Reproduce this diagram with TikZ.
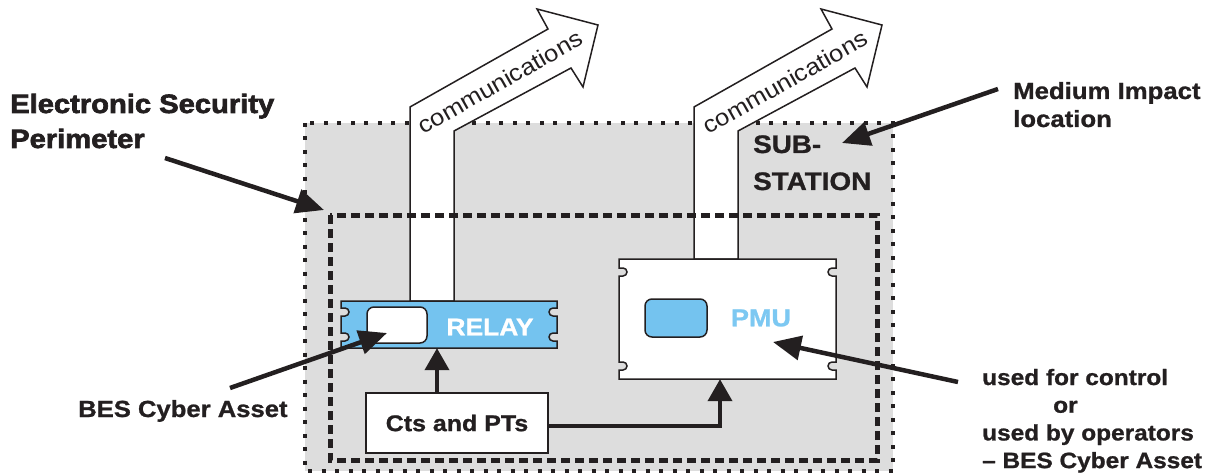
\documentclass[tikz,border=0pt]{standalone}
\usepackage{fontspec}
\setmainfont{Liberation Sans}[FakeStretch=1.1, BoldFeatures={FakeBold=1}]
\newfontfamily\espfont{Liberation Sans Bold}[FakeStretch=1.1, FakeBold=2.5]
\usetikzlibrary{arrows.meta}
\definecolor{subgray}{HTML}{DDDDDD}
\definecolor{relayblue}{HTML}{74C3EF}
\definecolor{pmucol}{HTML}{7CC8F2}
\definecolor{ink}{HTML}{231F20}
\newcommand\nbox[7]{%
 \filldraw[fill=#1, draw=ink, line width=1.5pt]
 (#2,#3) -- (#4,#3) -- (#4,#6-4) -- ++(-4,0) arc[start angle=-90,end angle=-270,radius=4]
 -- (#4,#6+4) -- (#4,#7-4) -- ++(-4,0) arc[start angle=-90,end angle=-270,radius=4]
 -- (#4,#7+4) -- (#4,#5) -- (#2,#5) -- (#2,#7+4) -- ++(4,0) arc[start angle=90,end angle=-90,radius=4]
 -- (#2,#7-4) -- (#2,#6+4) -- ++(4,0) arc[start angle=90,end angle=-90,radius=4]
 -- (#2,#6-4) -- cycle;}
\tikzset{
  commarrow/.style={fill=white, draw=ink, line width=1.5pt, line join=miter},
  commtext/.style={rotate=29.5, inner sep=0, font=\fontsize{23.3}{28}\selectfont, text=ink},
  thickarrow/.style={draw=ink, line width=4pt, -{Triangle[length=22pt,width=24pt]}},
  labelarrow/.style={draw=ink, line width=4.5pt, -{Triangle[length=28pt,width=24pt]}},
  lbl/.style={anchor=base west, inner sep=0, text=ink},
  hidden/.style={inner sep=0, draw=none}
}
\begin{document}
\begin{tikzpicture}[x=1pt,y=-1pt]
\useasboundingbox (0,0) rectangle (1227,476);
% substation area
\fill[subgray] (305,123) rectangle (893,471);
\draw[ink, line width=4pt, dash pattern=on 4pt off 9.5pt] (305,123) rectangle (893,471);
% communications arrows
\draw[commarrow] (410,301) -- (410,107) -- (548,29) -- (537,9) -- (598,25) -- (583,87) -- (571,68) -- (454,131) -- (454,301) -- cycle;
\draw[commarrow] (694,259) -- (694,107) -- (832,29) -- (821,9) -- (882,25) -- (867,87) -- (855,68) -- (738,131) -- (738,259) -- cycle;
\node[commtext] (com1) at (500,82) {communications};
\node[commtext] (com2) at (785,82) {communications};
% electronic security perimeter
\draw[ink, line width=5pt, dash pattern=on 9pt off 5pt] (330,215) rectangle (877,460);
% relay
\nbox{relayblue}{341}{301}{557}{348}{312}{337}
\node[hidden, minimum width=216, minimum height=47] (relay) at (449,324.5) {};
\filldraw[fill=white, draw=ink, line width=1.5pt, rounded corners=7pt] (367,307) rectangle (427,343);
\node[inner sep=0, text=white, font=\bfseries\fontsize{24}{28}\selectfont] (relaytext) at (490,327) {RELAY};
% pmu
\nbox{white}{619}{259}{836}{379}{272}{366}
\node[hidden, minimum width=217, minimum height=120] (pmu) at (727.5,319) {};
\filldraw[fill=relayblue, draw=ink, line width=1.5pt, rounded corners=7pt] (645,299) rectangle (707,337);
\node[inner sep=0, text=pmucol, font=\bfseries\fontsize{24.5}{28}\selectfont] (pmutext) at (761,318) {PMU};
% cts
\node[draw=ink, fill=white, line width=1.5pt, minimum width=182, minimum height=60, inner sep=0,
      font=\bfseries\fontsize{22.7}{27}\selectfont, text=ink] (cts) at (457,423) {Cts and PTs};
\draw[thickarrow] ([xshift=-20pt]cts.north) -- ([xshift=-20pt]cts.north |- relay.south);
\draw[thickarrow] ([yshift=-3pt]cts.east) -| ([xshift=-7.5pt]pmu.south);
% labels
\node[lbl, font=\espfont\fontsize{26.5}{35}\selectfont] (esp) at (10,113)
  {\begin{tabular}[t]{@{}l@{}}Electronic Security\\Perimeter\end{tabular}};
\node[lbl, font=\bfseries\fontsize{25.3}{37}\selectfont] (sub) at (753,153)
  {\begin{tabular}[t]{@{}l@{}}SUB-\\STATION\end{tabular}};
\node[lbl, font=\bfseries\fontsize{23.4}{28}\selectfont] (med) at (1013,99)
  {\begin{tabular}[t]{@{}l@{}}Medium Impact\\location\end{tabular}};
\node[lbl, font=\bfseries\fontsize{22.2}{27.7}\selectfont] (used) at (982,385)
  {\begin{tabular}[t]{@{}l@{}}used for control\\\hspace*{71pt}or\\used by operators\\– BES Cyber Asset\end{tabular}};
\node[lbl, font=\bfseries\fontsize{23.3}{28}\selectfont] (bes) at (78,417) {BES Cyber Asset};
% label arrows
\coordinate (espA) at (165,158); \coordinate (espB) at (324,210);
\coordinate (medA) at (998,89); \coordinate (medB) at (842,143);
\coordinate (useA) at (958,382); \coordinate (useB) at (773,342);
\coordinate (besA) at (230,388); \coordinate (besB) at (387,333);
\draw[labelarrow] (espA) -- (espB);
\draw[labelarrow] (medA) -- (medB);
\draw[labelarrow] (useA) -- (useB);
\draw[labelarrow] (besA) -- (besB);
\end{tikzpicture}
\end{document}
